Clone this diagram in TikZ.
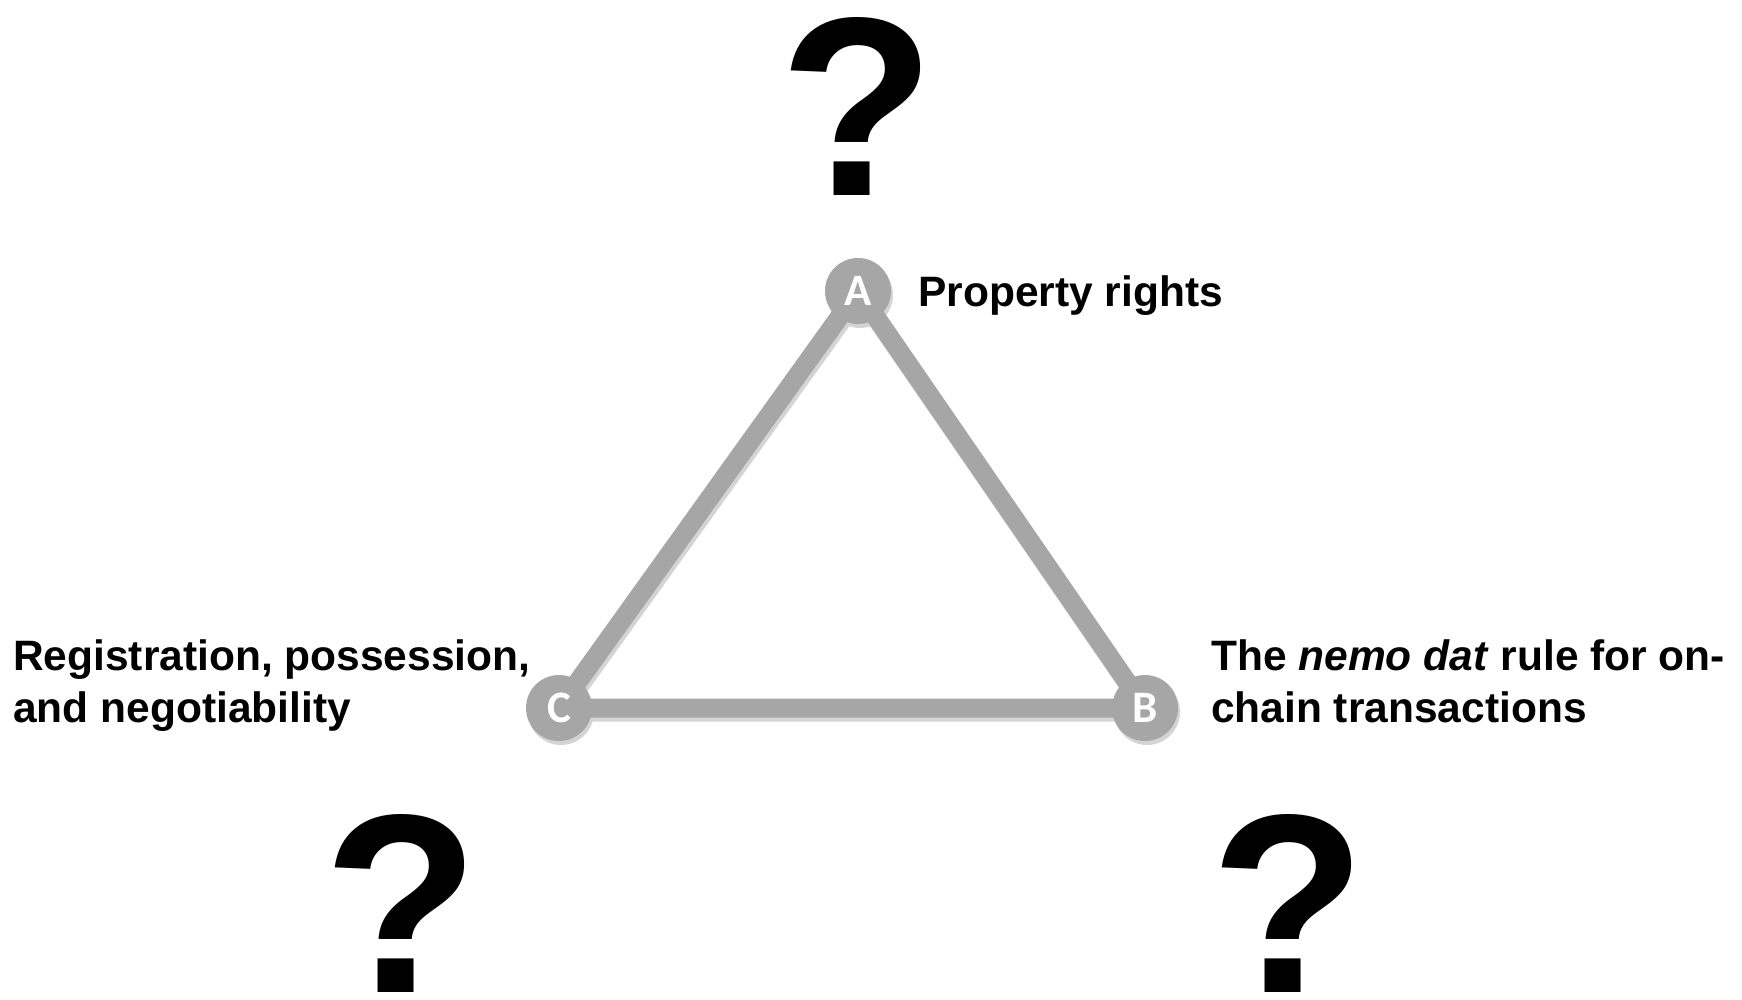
\documentclass[tikz,border=0pt]{standalone}
\usepackage{fontspec}
\setmainfont{Liberation Sans}
\newfontfamily\carl{Carlito}
\definecolor{edgegray}{HTML}{A6A6A6}
\definecolor{shadowgray}{HTML}{D4D4D4}
\begin{document}
\begin{tikzpicture}[x=1pt,y=-1pt,
  vertex/.style={circle,fill=edgegray,minimum size=66pt,inner sep=0pt,text=white,font=\carl\bfseries\fontsize{45}{45}\selectfont},
  vshadow/.style={circle,fill=shadowgray,minimum size=66pt,inner sep=0pt},
  edge/.style={draw=edgegray,line width=19pt},
  eshadow/.style={draw=shadowgray,line width=19pt},
  label/.style={anchor=base west,inner sep=0pt,align=left,font=\bfseries\fontsize{42.5}{52}\selectfont},
  qmark/.style={anchor=base,inner sep=0pt,font=\bfseries\fontsize{255}{255}\selectfont}]
\useasboundingbox (0,0) rectangle (1742,1000);
% shadows
\coordinate (As) at (860,295);
\coordinate (Bs) at (1147,712);
\coordinate (Cs) at (561,712);
\draw[eshadow] (As) -- (Bs) -- (Cs) -- cycle;
\node[vshadow] at (As) {};
\node[vshadow] at (Bs) {};
\node[vshadow] at (Cs) {};
% triangle
\coordinate (a) at (858,291);
\coordinate (b) at (1145,708);
\coordinate (c) at (559,708);
\draw[edge] (a) -- (b) -- (c) -- cycle;
\node[vertex] (A) at (a) {A};
\node[vertex] (B) at (b) {B};
\node[vertex] (C) at (c) {C};
% labels
\node[label] (la) at (918,306) {Property rights};
\node[label] (lc) at (13,722) {Registration, possession,\\and negotiability};
\node[label] (lb) at (1211,722) {The \textit{nemo dat} rule for on-\\chain transactions};
% question marks
\node[qmark] (q1) at (857,196) {?};
\node[qmark] (q2) at (401,992) {?};
\node[qmark] (q3) at (1288,992) {?};
\end{tikzpicture}
\end{document}
